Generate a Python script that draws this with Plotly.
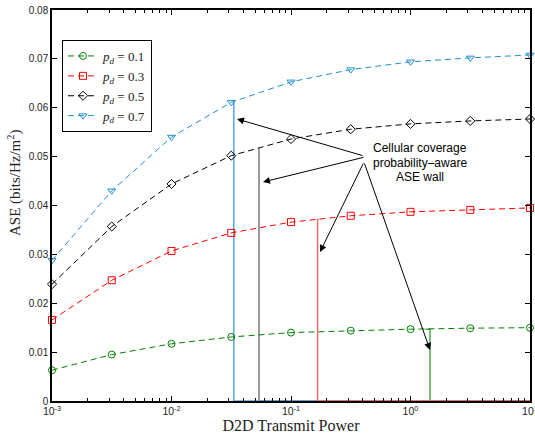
import plotly.graph_objects as go

# ---------------- data ----------------
power = [1e-3, 10**-2.5, 1e-2, 10**-1.5, 1e-1, 10**-0.5, 1e0, 10**0.5, 1e1]
ase_p01 = [0.0063, 0.0095, 0.0117, 0.0131, 0.0140, 0.0144, 0.0147, 0.0149, 0.0150]
ase_p03 = [0.0166, 0.0247, 0.0307, 0.0344, 0.0366, 0.0379, 0.0387, 0.0391, 0.0395]
ase_p05 = [0.0239, 0.0357, 0.0444, 0.0502, 0.0536, 0.0556, 0.0567, 0.0573, 0.0577]
ase_p07 = [0.0288, 0.0430, 0.0540, 0.0611, 0.0653, 0.0678, 0.0694, 0.0702, 0.0708]
series_names = ["<i>p</i><sub><i>d</i></sub> = 0.1", "<i>p</i><sub><i>d</i></sub> = 0.3",
                "<i>p</i><sub><i>d</i></sub> = 0.5", "<i>p</i><sub><i>d</i></sub> = 0.7"]

# ASE wall (power at which cellular coverage constraint hits, ASE there)
wall_power = [1.456, 0.167, 0.054, 0.0332]
wall_ase = [0.0147, 0.0373, 0.0517, 0.0611]
wall_top_start = [1.33, 0.167, 0.054, 0.0332]

x_tickvals = [1e-3, 1e-2, 1e-1, 1e0, 1e1]
x_ticktext = ["10<sup>-3</sup>", "10<sup>-2</sup>", "10<sup>-1</sup>", "10<sup>0</sup>", "10<sup>1</sup>"]
annotation_text = ["Cellular coverage", "probability\u2013aware", "ASE wall"]

# ---------------- styles ----------------
colors = ["#008000", "#ff0000", "#000000", "#1f8fd3"]
wall_colors = ["#4ea84e", "#ff6a6a", "#7a7a7a", "#5aa6dc"]
symbols = ["circle-open", "square-open", "diamond-open", "triangle-down-open"]

W, H = 535, 434
L, R, T, B = 52, 5, 10, 33
pw, ph = W - L - R, H - T - B


def px(x):
    return (x - L) / pw


def py(y):
    return (H - B - y) / ph


fig = go.Figure()

# walls (drawn first, under the curves)
for i in [0, 2, 3, 1]:
    fig.add_trace(go.Scatter(
        x=[wall_top_start[i], wall_power[i], wall_power[i], power[-1]],
        y=[wall_ase[i], wall_ase[i], 0, 0],
        mode="lines", line=dict(color=wall_colors[i], width=1.5),
        showlegend=False, hoverinfo="skip", cliponaxis=False))

for vals, name, c, s in zip([ase_p01, ase_p03, ase_p05, ase_p07], series_names, colors, symbols):
    fig.add_trace(go.Scatter(
        x=power, y=vals, name=name, mode="lines+markers",
        line=dict(color=c, width=1, dash="6px,4px"),
        marker=dict(symbol=s, size=7, color=c, line=dict(color=c, width=1)),
        cliponaxis=False))

minor_vals = [m * 10**e for e in range(-3, 1) for m in range(2, 10)]

fig.update_xaxes(
    type="log", range=[-3, 1], tickvals=x_tickvals, ticktext=x_ticktext,
    ticks="inside", ticklen=5, tickcolor="black", tickwidth=1,
    minor=dict(tickvals=minor_vals, ticks="inside", ticklen=3, tickcolor="black", showgrid=False),
    showline=True, linecolor="black", linewidth=1.5, mirror="ticks",
    showgrid=False, zeroline=False, automargin=False, ticklabeloverflow="allow",
    tickfont=dict(family="Liberation Sans", size=10.5, color="#222"),
    title=dict(text="D2D Transmit Power", font=dict(family="Liberation Serif", size=16, color="#222"),
               standoff=4))
fig.update_yaxes(
    range=[0, 0.08], dtick=0.01, ticks="inside", ticklen=5, tickcolor="black",
    showline=True, linecolor="black", linewidth=1.5, mirror="ticks",
    showgrid=False, zeroline=False, automargin=False,
    tickfont=dict(family="Liberation Sans", size=10, color="#222"))

annotations = []
# y axis title
annotations.append(dict(
    text="ASE (bits/Hz/m<sup>2</sup>)", textangle=-90, xref="paper", yref="paper",
    x=px(15), y=py(183), showarrow=False, xanchor="center", yanchor="middle",
    font=dict(family="Liberation Serif", size=15, color="#222")))
# text block
for k, t in enumerate(annotation_text):
    annotations.append(dict(
        text=t, xref="paper", yref="paper", x=px(420), y=py(148 + 14.5 * k),
        showarrow=False, xanchor="center", yanchor="middle",
        font=dict(family="Liberation Sans", size=12, color="black")))
# arrows: (tail_x, tail_y, head_x, head_y) in pixels
arrows = [(364, 156, 237, 119), (365, 157, 263, 182), (364, 162, 320, 252), (364, 162, 430, 350)]
for tx, ty, hx, hy in arrows:
    annotations.append(dict(
        text="", xref="paper", yref="paper", x=px(hx), y=py(hy),
        ax=tx - hx, ay=ty - hy, showarrow=True, arrowhead=2, arrowsize=1.4,
        arrowwidth=1, arrowcolor="black", standoff=0, startstandoff=0))

fig.update_layout(
    width=W, height=H, margin=dict(l=L, r=R, t=T, b=B, autoexpand=False),
    paper_bgcolor="white", plot_bgcolor="white",
    annotations=annotations,
    legend=dict(x=px(62), y=py(40), xanchor="left", yanchor="top",
                bgcolor="white", bordercolor="black", borderwidth=1,
                font=dict(family="Liberation Serif", size=13, color="#222"),
                itemwidth=30, tracegroupgap=0),
    showlegend=True)

fig.write_html("out.html", post_script="document.body.style.margin='0';",
               config={"displayModeBar": False})
